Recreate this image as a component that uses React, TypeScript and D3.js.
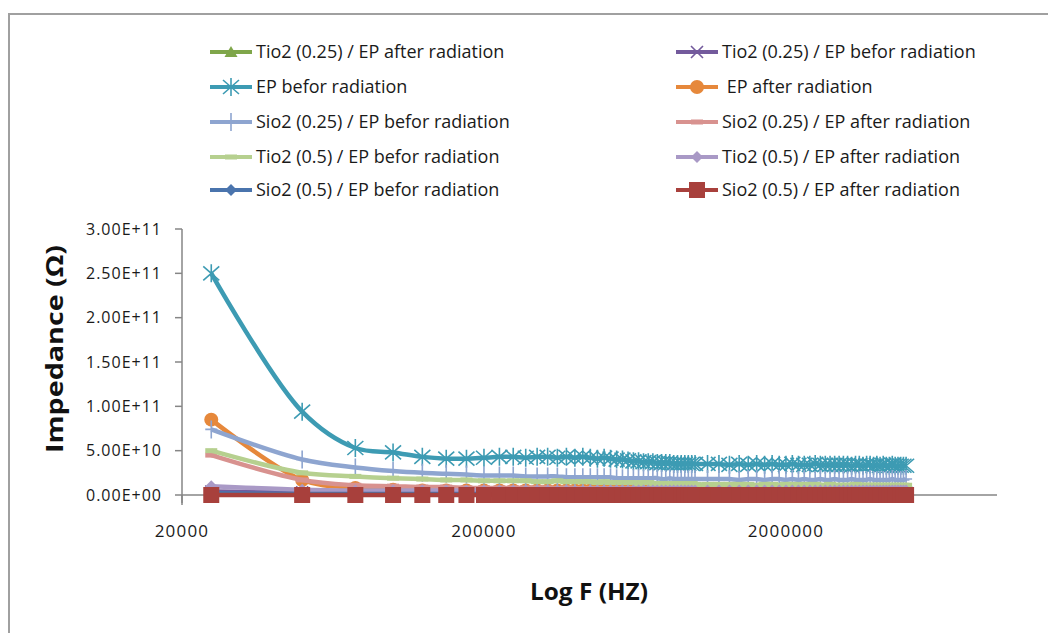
import * as d3 from "d3";
import React from "react";

// frequency points (kHz)
const freqKHz = [
  25, 50, 75, 100, 125, 150, 175, 200, 225, 250, 275, 300, 325, 350, 375, 400, 425, 450, 475, 500,
  525, 550, 575, 600, 625, 650, 675, 700, 725, 750, 775, 800, 825, 850, 875, 900, 925, 950, 975, 1000,
  1100, 1200, 1300, 1400, 1500, 1600, 1700, 1800, 1900, 2000, 2100, 2200, 2300, 2400, 2500, 2600, 2700, 2800, 2900, 3000,
  3100, 3200, 3300, 3400, 3500, 3600, 3700, 3800, 3900, 4000, 4100, 4200, 4300, 4400, 4500, 4600, 4700, 4800, 4900, 5000,
];

// impedance values, in units of 1e9 ohm
const tio2_025_after = [
  3, 2, 2, 2, 2, 2, 2, 2, 2, 2, 2, 2, 2, 2, 2, 2, 2, 2, 2, 2,
  2, 2, 2, 2, 2, 2, 2, 2, 2, 2, 2, 2, 2, 2, 2, 2, 2, 2, 2, 2,
  2, 2, 2, 2, 2, 2, 2, 2, 2, 2, 2, 2, 2, 2, 2, 2, 2, 2, 2, 2,
  2, 2, 2, 2, 2, 2, 2, 2, 2, 2, 2, 2, 2, 2, 2, 2, 2, 2, 2, 2,
];
const tio2_025_befor = [
  4, 3, 3, 3, 3, 3, 3, 3, 3, 3, 3, 3, 3, 3, 3, 3, 3, 3, 3, 3,
  3, 3, 3, 3, 3, 3, 3, 3, 3, 3, 3, 3, 3, 3, 3, 3, 3, 3, 3, 3,
  3, 3, 3, 3, 3, 3, 3, 3, 3, 3, 3, 3, 3, 3, 3, 3, 3, 3, 3, 3,
  3, 3, 3, 3, 3, 3, 3, 3, 3, 3, 3, 3, 3, 3, 3, 3, 3, 3, 3, 3,
];
const ep_befor = [
  250, 94, 53, 48, 43, 41, 41, 42, 43, 43, 42, 43, 43, 42, 43, 42, 43, 42, 41, 42,
  41, 40, 40, 39, 38, 38, 37, 37, 37, 36, 36, 36, 36, 35, 35, 35, 35, 35, 35, 35,
  35, 35, 34, 35, 34, 35, 34, 35, 34, 34, 35, 34, 34, 34, 35, 34, 34, 34, 34, 34,
  34, 34, 33, 34, 34, 33, 34, 34, 33, 34, 33, 34, 33, 33, 34, 33, 33, 33, 33, 33,
];
const ep_after = [
  85, 17, 8, 6, 5, 5, 5, 5, 5, 5, 5, 5, 5, 5, 5, 5, 5, 5, 5, 5,
  5, 5, 5, 5, 5, 5, 5, 5, 5, 5, 5, 5, 5, 5, 5, 5, 5, 5, 5, 5,
  5, 5, 5, 5, 5, 5, 5, 5, 5, 5, 4, 5, 5, 4, 5, 4, 5, 4, 4, 4,
  4, 4, 4, 4, 4, 4, 4, 4, 4, 4, 4, 4, 4, 4, 4, 4, 4, 4, 4, 4,
];
const sio2_025_befor = [
  74, 40, 31, 27, 25, 24, 23, 22, 22, 22, 21, 21, 21, 21, 20, 20, 20, 20, 20, 20,
  20, 19, 19, 19, 19, 19, 19, 19, 19, 19, 18, 18, 19, 18, 18, 18, 18, 18, 18, 18,
  18, 18, 18, 17, 18, 18, 17, 18, 18, 17, 18, 17, 18, 17, 17, 18, 17, 17, 18, 17,
  17, 17, 18, 17, 17, 17, 17, 18, 17, 17, 17, 17, 17, 17, 18, 17, 17, 17, 17, 18,
];
const sio2_025_after = [
  45, 17, 11, 10, 9, 9, 8, 8, 8, 8, 8, 8, 8, 7, 8, 7, 7, 7, 7, 7,
  7, 7, 7, 7, 7, 7, 7, 7, 7, 7, 7, 7, 7, 7, 7, 7, 7, 7, 7, 7,
  7, 7, 6, 7, 7, 6, 7, 6, 7, 6, 6, 7, 6, 6, 6, 7, 6, 6, 6, 6,
  6, 6, 6, 6, 6, 6, 6, 6, 6, 6, 6, 6, 6, 6, 6, 6, 6, 6, 6, 6,
];
const tio2_05_befor = [
  50, 25, 21, 19, 18, 17, 17, 16, 16, 16, 16, 15, 15, 16, 15, 15, 15, 15, 14, 15,
  14, 14, 14, 14, 14, 13, 14, 14, 13, 13, 13, 13, 13, 13, 13, 13, 12, 13, 13, 12,
  12, 12, 12, 12, 12, 11, 12, 12, 11, 12, 12, 11, 12, 11, 12, 11, 11, 12, 11, 11,
  11, 11, 11, 12, 11, 11, 11, 11, 11, 11, 11, 11, 10, 11, 11, 11, 10, 11, 11, 11,
];
const tio2_05_after = [
  10, 6, 5, 5, 5, 5, 5, 5, 5, 5, 5, 5, 5, 5, 5, 5, 5, 5, 5, 5,
  5, 5, 5, 5, 5, 5, 5, 5, 5, 5, 5, 5, 5, 5, 5, 5, 5, 5, 5, 5,
  5, 5, 5, 5, 5, 5, 5, 5, 5, 5, 5, 5, 5, 5, 5, 5, 5, 5, 5, 5,
  5, 5, 5, 5, 5, 5, 5, 5, 5, 5, 5, 5, 5, 5, 5, 5, 5, 5, 5, 5,
];
const sio2_05_befor = [
  2, 1, 1, 1, 1, 1, 1, 1, 1, 1, 1, 1, 1, 1, 1, 1, 1, 1, 1, 1,
  1, 1, 1, 1, 1, 1, 1, 1, 1, 1, 1, 1, 1, 1, 1, 1, 1, 1, 1, 1,
  1, 1, 1, 1, 1, 1, 1, 1, 1, 1, 1, 1, 1, 1, 1, 1, 1, 1, 1, 1,
  1, 1, 1, 1, 1, 1, 1, 1, 1, 1, 1, 1, 1, 1, 1, 1, 1, 1, 1, 1,
];
const sio2_05_after = [
  0, 0, 0, 0, 0, 0, 0, 0, 0, 0, 0, 0, 0, 0, 0, 0, 0, 0, 0, 0,
  0, 0, 0, 0, 0, 0, 0, 0, 0, 0, 0, 0, 0, 0, 0, 0, 0, 0, 0, 0,
  0, 0, 0, 0, 0, 0, 0, 0, 0, 0, 0, 0, 0, 0, 0, 0, 0, 0, 0, 0,
  0, 0, 0, 0, 0, 0, 0, 0, 0, 0, 0, 0, 0, 0, 0, 0, 0, 0, 0, 0,
];

const seriesNames = [
  "Tio2 (0.25) / EP after radiation",
  "Tio2 (0.25) / EP befor radiation",
  "EP befor radiation",
  " EP after radiation",
  "Sio2 (0.25) / EP befor radiation",
  "Sio2 (0.25) / EP after radiation",
  "Tio2 (0.5) / EP befor radiation",
  "Tio2 (0.5) / EP after radiation",
  "Sio2 (0.5) / EP befor radiation",
  "Sio2 (0.5) / EP after radiation",
];
const seriesValues = [
  tio2_025_after, tio2_025_befor, ep_befor, ep_after, sio2_025_befor,
  sio2_025_after, tio2_05_befor, tio2_05_after, sio2_05_befor, sio2_05_after,
];
const seriesColors = [
  "#7fa64a", "#735a9c", "#3d9bb3", "#e6883b", "#8ea5d0",
  "#d8928f", "#b6d08f", "#a999c6", "#4a74ad", "#a8403c",
];
const seriesMarkers = [
  "triangle", "x", "star", "circle", "plus",
  "dash", "dash", "diamond", "diamond", "square",
];

const yTicks = [0, 5e10, 1e11, 1.5e11, 2e11, 2.5e11, 3e11];
const xTicks = [20000, 200000, 2000000];

const Marker = ({ type, x, y, color }: { type: string; x: number; y: number; color: string }) => {
  const t = `translate(${x},${y})`;
  if (type === "triangle") return <path transform={t} d="M0,-6L6.5,5L-6.5,5Z" fill={color} />;
  if (type === "circle") return <circle cx={x} cy={y} r={7} fill={color} />;
  if (type === "square") return <rect x={x - 8} y={y - 8} width={16} height={16} fill={color} />;
  if (type === "diamond") return <path transform={t} d="M0,-6L6,0L0,6L-6,0Z" fill={color} />;
  if (type === "dash") return <rect x={x - 6} y={y - 2.5} width={12} height={5} fill={color} />;
  if (type === "x")
    return <path transform={t} d="M-6,-6L6,6M-6,6L6,-6" stroke={color} strokeWidth={1.6} fill="none" />;
  if (type === "plus")
    return <path transform={t} d="M0,-9L0,9M-6,0L6,0" stroke={color} strokeWidth={1.6} fill="none" />;
  // star: X plus vertical stroke
  return (
    <path transform={t} d="M-8,-7L8,7M-8,7L8,-7M0,-9L0,9" stroke={color} strokeWidth={1.6} fill="none" />
  );
};

const App = () => {
  const width = 1048;
  const height = 633;

  const x = d3.scaleLog().domain([20000, 1e7]).range([182, 997]);
  const y = d3.scaleLinear().domain([0, 3e11]).range([495, 229]);

  const line = d3
    .line<number>()
    .x((_, i) => x(freqKHz[i] * 1000))
    .y((d) => y(d * 1e9))
    .curve(d3.curveCatmullRom.alpha(0.5));

  const font = "'Open Sans', Lato, sans-serif";
  const axisColor = "#868686";

  // legend layout: two columns, five rows
  const legendRows = [52, 87, 122, 157, 190];
  const legendCols = [210, 676];

  return (
    <svg
      width={width}
      height={height}
      style={{ position: "absolute", left: 0, top: 0, background: "#fff" }}
      fontFamily={font}
    >
      {/* chart frame */}
      <rect x={9} y={14} width={1100} height={700} fill="#fff" stroke="#a0a0a0" strokeWidth={2} />

      {/* legend */}
      {seriesNames.map((name, i) => {
        const lx = legendCols[i % 2];
        const ly = legendRows[Math.floor(i / 2)];
        return (
          <g key={name}>
            <line x1={lx} x2={lx + 42} y1={ly} y2={ly} stroke={seriesColors[i]} strokeWidth={4} />
            <Marker type={seriesMarkers[i]} x={lx + 21} y={ly} color={seriesColors[i]} />
            <text
              x={lx + 46}
              y={ly}
              dy="0.35em"
              fontSize={18}
              fill="#1a1a1a"
              style={{ whiteSpace: "pre" }}
            >
              {name}
            </text>
          </g>
        );
      })}

      {/* axes */}
      <line x1={x(20000)} x2={x(20000)} y1={y(3e11)} y2={y(0) + 10} stroke={axisColor} strokeWidth={1.5} />
      <line x1={x(20000)} x2={x(1e7)} y1={y(0)} y2={y(0)} stroke={axisColor} strokeWidth={1.5} />
      {yTicks.map((t) => (
        <g key={t}>
          <line x1={x(20000) - 7} x2={x(20000)} y1={y(t)} y2={y(t)} stroke={axisColor} strokeWidth={1.5} />
          <text
            x={162}
            y={y(t)}
            dy="0.35em"
            textAnchor="end"
            fontSize={16}
            letterSpacing={1}
            fill="#1a1a1a"
          >
            {t === 0 ? "0.00E+00" : d3.format(".2e")(t).replace("e+", "E+")}
          </text>
        </g>
      ))}
      {xTicks.map((t) => (
        <g key={t}>
          <line x1={x(t)} x2={x(t)} y1={y(0)} y2={y(0) + 8} stroke={axisColor} strokeWidth={1.5} />
          <text
            x={x(t)}
            y={531}
            dy="0.35em"
            textAnchor="middle"
            fontSize={17}
            letterSpacing={1.2}
            fill="#1a1a1a"
          >
            {t}
          </text>
        </g>
      ))}

      {/* series */}
      {seriesValues.map((vals, i) => (
        <g key={seriesNames[i]}>
          <path d={line(vals) || ""} fill="none" stroke={seriesColors[i]} strokeWidth={4.5} />
          {vals.map((v, j) => (
            <Marker
              key={j}
              type={seriesMarkers[i]}
              x={x(freqKHz[j] * 1000)}
              y={y(v * 1e9)}
              color={seriesColors[i]}
            />
          ))}
        </g>
      ))}

      {/* axis titles */}
      <text
        x={589}
        y={592}
        dy="0.35em"
        textAnchor="middle"
        fontSize={24}
        fontWeight="bold"
        fill="#111"
        textLength={118}
        lengthAdjust="spacingAndGlyphs"
      >
        Log F (HZ)
      </text>
      <text
        transform="translate(55,349) rotate(-90)"
        dy="0.35em"
        textAnchor="middle"
        fontSize={24}
        fontWeight="bold"
        fill="#111"
        textLength={208}
        lengthAdjust="spacingAndGlyphs"
      >
        Impedance (Ω)
      </text>
    </svg>
  );
};

export default App;
